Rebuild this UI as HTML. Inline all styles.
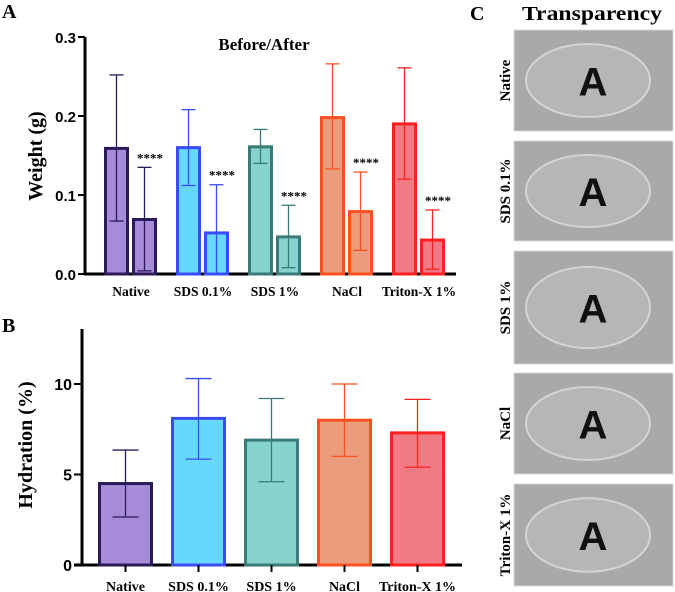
<!DOCTYPE html>
<html><head><meta charset="utf-8"><style>
body{margin:0;background:#fff;width:675px;height:592px;overflow:hidden}
svg{display:block}
text{font-family:"Liberation Serif",serif;font-weight:bold}
.ax{font-family:"Liberation Sans",sans-serif;font-weight:bold}
</style></head><body>
<svg id="fig" width="675" height="592" viewBox="0 0 675 592">
<text x="2" y="18" font-size="20">A</text>
<text x="2" y="332" font-size="20">B</text>
<text x="470" y="20" font-size="20">C</text>
<text x="522" y="20" font-size="20" textLength="140" lengthAdjust="spacingAndGlyphs">Transparency</text>
<text x="264" y="50" font-size="17" text-anchor="middle">Before/After</text>
<g id="gA"></g>
<g id="gB"></g>
<g id="gC"></g>
</svg>
<script>
const categories=["Native","SDS 0.1%","SDS 1%","NaCl","Triton-X 1%"];
const beforeVals=[0.159,0.160,0.161,0.198,0.190];
const beforeLo=[0.067,0.112,0.140,0.133,0.120];
const beforeHi=[0.252,0.208,0.183,0.266,0.261];
const afterVals=[0.069,0.052,0.047,0.079,0.043];
const afterLo=[0.004,0.000,0.008,0.030,0.006];
const afterHi=[0.135,0.113,0.087,0.129,0.081];
const ticksA=[0,0.1,0.2,0.3];
const hydVals=[4.5,8.1,6.9,8.0,7.3];
const hydLo=[2.65,5.85,4.6,6.0,5.4];
const hydHi=[6.35,10.3,9.2,10.0,9.15];
const ticksB=[0,5,10];
const fills=["#a58bd8","#66d8fc","#86d4cd","#ea9c7c","#f07b84"];
const strokes=["#2a1a5a","#3a4cf8","#3a7a78","#fc5020","#fc2020"];
const NS="http://www.w3.org/2000/svg";
function mk(p,t,a,txt){const e=document.createElementNS(NS,t);for(const k in a)e.setAttribute(k,a[k]);if(txt!=null)e.textContent=txt;p.appendChild(e);return e;}
// Panel A
const gA=document.getElementById('gA');
const yA=v=>274-v/0.1*79;
mk(gA,'line',{x1:85,y1:37,x2:85,y2:275,stroke:'#000','stroke-width':3});
mk(gA,'line',{x1:84,y1:274,x2:456,y2:274,stroke:'#000','stroke-width':3});
ticksA.forEach(t=>{mk(gA,'line',{x1:78,y1:yA(t),x2:85,y2:yA(t),stroke:'#000','stroke-width':2});
const l=mk(gA,'text',{x:76,y:yA(t)+6,'font-size':15,'text-anchor':'end',class:'ax'},t.toFixed(1));

});
const ya=mk(gA,'text',{x:0,y:0,'font-size':20,'text-anchor':'middle',transform:'translate(42,156) rotate(-90)'},'Weight (g)');


const xA=i=>104+i*72;
function bar(g,x,w,y0,y1,f,s,lo,hi,cap){
 const r=mk(g,'rect',{x:x+1.5,y:y1,width:w-3,height:y0-y1,fill:f,stroke:s,'stroke-width':3});
 
 
 const cx=x+w/2;
 mk(g,'line',{x1:cx,y1:lo,x2:cx,y2:hi,stroke:s,'stroke-width':1.3});
 mk(g,'line',{x1:cx-cap,y1:hi,x2:cx+cap,y2:hi,stroke:s,'stroke-width':1.3});
 mk(g,'line',{x1:cx-cap,y1:lo,x2:cx+cap,y2:lo,stroke:s,'stroke-width':1.3});
}
categories.forEach((c,i)=>{
 const x=xA(i);
 bar(gA,x,25,274,yA(beforeVals[i]),fills[i],strokes[i],yA(beforeLo[i]),yA(beforeHi[i]),7);
 bar(gA,x+28,25,274,yA(afterVals[i]),fills[i],strokes[i],yA(afterLo[i]),yA(afterHi[i]),7);
 const st=mk(gA,'text',{x:x+46,y:yA(afterHi[i])-5,'font-size':13,'text-anchor':'middle'},'****');
 
 
 const l=mk(gA,'text',{x:x+27,y:296,'font-size':13.5,'text-anchor':'middle'},c);
 
 
});
// Panel B
const gB=document.getElementById('gB');
const yB=v=>565-v*18.1;
mk(gB,'line',{x1:82,y1:329,x2:82,y2:566,stroke:'#000','stroke-width':3});
mk(gB,'line',{x1:74,y1:565,x2:462,y2:565,stroke:'#000','stroke-width':3});
ticksB.forEach(t=>{mk(gB,'line',{x1:74,y1:yB(t),x2:82,y2:yB(t),stroke:'#000','stroke-width':2});
const l=mk(gB,'text',{x:72,y:yB(t)+6,'font-size':16,'text-anchor':'end',class:'ax'},String(t));

});
const yb=mk(gB,'text',{x:0,y:0,'font-size':20,'text-anchor':'middle',transform:'translate(32,445) rotate(-90)'},'Hydration (%)');


categories.forEach((c,i)=>{
 const x=98+i*73;
 bar(gB,x,55,565,yB(hydVals[i]),fills[i],strokes[i],yB(hydLo[i]),yB(hydHi[i]),13);
 mk(gB,'line',{x1:x+27.5,y1:565,x2:x+27.5,y2:572,stroke:'#000','stroke-width':2});
 const l=mk(gB,'text',{x:x+27.5,y:591,'font-size':14,'text-anchor':'middle'},c);
 
 
});
// Panel C photos
const gC=document.getElementById('gC');
const photoY=[30,141,251,373,484];
const photoH=[101,100,113,101,102];
categories.forEach((c,i)=>{
 const y=photoY[i],h=photoH[i];
 const r=mk(gC,'rect',{x:514,y:y,width:159,height:h,fill:'#a9a9a9',stroke:'#d8d8d8','stroke-width':1});
 
 
 mk(gC,'ellipse',{cx:588,cy:y+h/2,rx:62,ry:h*0.36,fill:'#b6b6b6',stroke:'#d4d4d4','stroke-width':2});
 mk(gC,'text',{x:593,y:y+h/2+15,'font-size':40,'text-anchor':'middle',fill:'#111',class:'ax'},'A');
 const l=mk(gC,'text',{x:0,y:0,'font-size':15,'text-anchor':'middle',transform:`translate(510,${y+h/2}) rotate(-90)`},c);
 
 
});
</script>
</body></html>
